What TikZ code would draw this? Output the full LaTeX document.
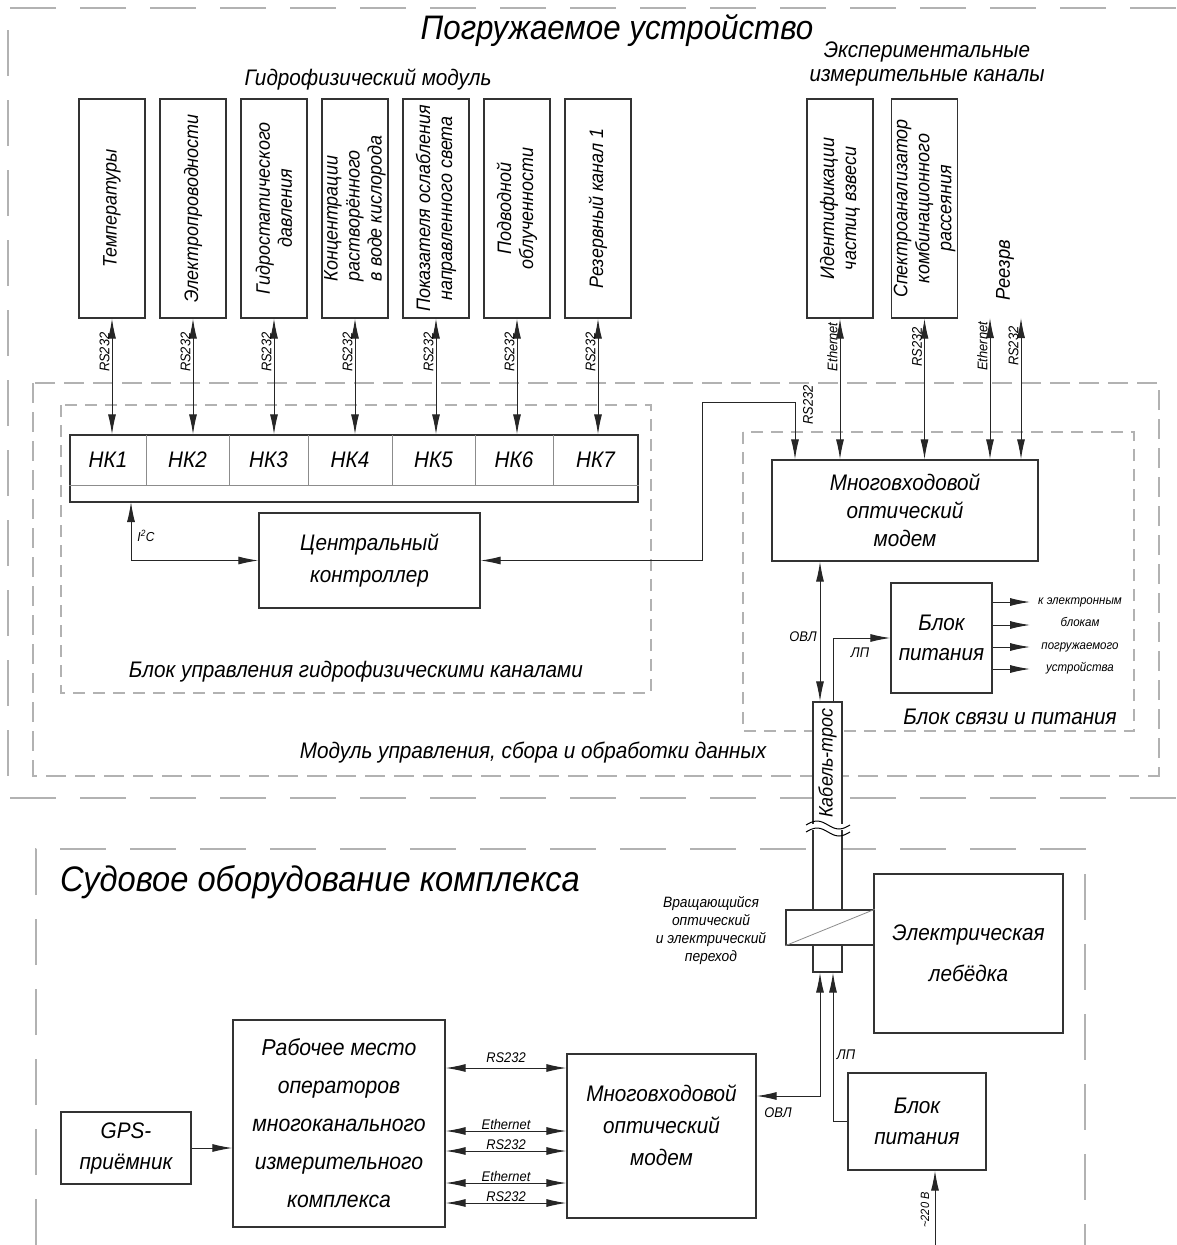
\documentclass[tikz,border=0pt]{standalone}
\usepackage{fontspec}
\setmainfont{Liberation Sans}[FakeStretch=0.92]
\usetikzlibrary{arrows.meta}

\begin{document}
\begin{tikzpicture}[x=1pt,y=-1pt,>={Latex[length=20pt,width=8pt]},
  sensor/.style={draw=black!80,line width=1.3pt,minimum width=66pt,minimum height=219pt,inner sep=0pt},
  vtext/.style={rotate=90,align=center,font=\fontsize{19.5}{22}\itshape},
  box/.style={draw=black!80,line width=1.3pt,fill=white,inner sep=0pt,align=center,font=\fontsize{22.5}{30}\itshape},
  tag/.style={font=\fontsize{14}{15}\itshape,inner sep=2pt},
  vtag/.style={tag,rotate=90},
  link/.style={<->,line width=1pt,draw=black!85},
  feed/.style={->,line width=1pt,draw=black!85},
  cell/.style={draw=black!45,line width=0.8pt},
  bigframe/.style={draw=black!30,line width=1.3pt,dash pattern=on 46pt off 24pt},
  midframe/.style={draw=black!30,line width=1.3pt,dash pattern=on 20pt off 9pt},
  smallframe/.style={draw=black!30,line width=1.1pt,dash pattern=on 12pt off 8pt}]
  \useasboundingbox (0,0) rectangle (1176,1245);

  % frames
  \draw[bigframe] (1176,8) -- (8,8) -- (8,798) -- (1176,798);
  \draw[midframe] (33,383) rectangle (1159,776);
  \draw[smallframe] (61,405) rectangle (651,693);
  \draw[smallframe] (743,432) rectangle (1134,731);
  \draw[bigframe] (36,1245) -- (36,849) -- (1085,849) -- (1085,1245);

  % titles
  \node[font=\fontsize{34}{36}\itshape] (ttl) at (617,30) {Погружаемое устройство};
  \node[font=\fontsize{22.5}{24}\itshape] (hydro) at (368,80) {Гидрофизический модуль};
  \node[font=\fontsize{22.5}{24}\itshape,align=center] (expt) at (927,64) {Экспериментальные\\измерительные каналы};
  \node[font=\fontsize{22.5}{24}\itshape] (bctl) at (356,672) {Блок управления гидрофизическими каналами};
  \node[font=\fontsize{22.5}{24}\itshape] (modl) at (533,753) {Модуль управления, сбора и обработки данных};
  \node[font=\fontsize{22.5}{24}\itshape] (bsv) at (1010,717) {Блок связи и питания};
  \node[font=\fontsize{35.5}{38}\itshape] (ship) at (320,882) {Судовое оборудование комплекса};

  % hydrophysical sensors
  \node[sensor] (h1) at (112,208.5) {};
  \node[sensor] (h2) at (193,208.5) {};
  \node[sensor] (h3) at (274,208.5) {};
  \node[sensor] (h4) at (355,208.5) {};
  \node[sensor] (h5) at (436,208.5) {};
  \node[sensor] (h6) at (517,208.5) {};
  \node[sensor] (h7) at (598,208.5) {};
  \node[vtext] (t1) at (h1) {Температуры};
  \node[vtext] (t2) at (h2) {Электропроводности};
  \node[vtext] (t3) at (h3) {Гидростатического\\давления};
  \node[vtext,align=left] (t4) at (h4) {Концентрации\\растворённого\\в воде кислорода};
  \node[vtext] (t5) at (h5) {Показателя ослабления\\направленного света};
  \node[vtext] (t6) at (h6) {Подводной\\облученности};
  \node[vtext] (t7) at (h7) {Резервный канал 1};

  % experimental channels
  \node[sensor] (e1) at (840,208.5) {};
  \node[sensor] (e2) at (924.5,208.5) {};
  \node[vtext] (te1) at (e1) {Идентификации\\частиц взвеси};
  \node[vtext] (te2) at (e2) {Спектроанализатор\\комбинационного\\рассеяния};
  \node[font=\fontsize{20}{22}\itshape,rotate=90] (rez) at (1005,270) {Реезрв};
  \coordinate (r1) at (990,318);
  \coordinate (r2) at (1021,318);

  % channel strip
  \node[box,minimum width=568pt,minimum height=67pt] (strip) at (354,468.5) {};
  \draw[cell] ([yshift=-16.5pt]strip.west) -- ([yshift=-16.5pt]strip.east);
  \draw[cell] (146,435) -- (146,485);
  \draw[cell] (229,435) -- (229,485);
  \draw[cell] (308,435) -- (308,485);
  \draw[cell] (392,435) -- (392,485);
  \draw[cell] (475,435) -- (475,485);
  \draw[cell] (553,435) -- (553,485);
  \node[font=\fontsize{22.5}{24}\itshape] (nk1) at (108,460) {НК1};
  \node[font=\fontsize{22.5}{24}\itshape] (nk2) at (187.5,460) {НК2};
  \node[font=\fontsize{22.5}{24}\itshape] (nk3) at (268.5,460) {НК3};
  \node[font=\fontsize{22.5}{24}\itshape] (nk4) at (350,460) {НК4};
  \node[font=\fontsize{22.5}{24}\itshape] (nk5) at (433.5,460) {НК5};
  \node[font=\fontsize{22.5}{24}\itshape] (nk6) at (514,460) {НК6};
  \node[font=\fontsize{22.5}{24}\itshape] (nk7) at (595.5,460) {НК7};

  \draw[link] (h1.south) -- (h1.south |- strip.north) node[vtag,pos=0.29,above] {RS232};
  \draw[link] (h2.south) -- (h2.south |- strip.north) node[vtag,pos=0.29,above] {RS232};
  \draw[link] (h3.south) -- (h3.south |- strip.north) node[vtag,pos=0.29,above] {RS232};
  \draw[link] (h4.south) -- (h4.south |- strip.north) node[vtag,pos=0.29,above] {RS232};
  \draw[link] (h5.south) -- (h5.south |- strip.north) node[vtag,pos=0.29,above] {RS232};
  \draw[link] (h6.south) -- (h6.south |- strip.north) node[vtag,pos=0.29,above] {RS232};
  \draw[link] (h7.south) -- (h7.south |- strip.north) node[vtag,pos=0.29,above] {RS232};

  % controller
  \node[box,minimum width=221pt,minimum height=95pt,font=\fontsize{22.5}{32}\itshape] (ctrl) at (369.5,560.5) {Центральный\\контроллер};
  \coordinate (i2c) at (131,502);
  \draw[link] (i2c) |- (ctrl.west);
  \node[tag,font=\fontsize{13}{14}\itshape] (i2cl) at (146,536) {I\textsuperscript{2}C};

  % communication and power
  \node[box,minimum width=266pt,minimum height=101pt,font=\fontsize{22.5}{28}\itshape] (modem) at (905,510.5) {Многовходовой\\оптический\\модем};
  \coordinate (bend) at (702,402);
  \coordinate (rsin) at (795,402);
  \draw[link] (ctrl.east) -| (bend) -- (rsin) -- (rsin |- modem.north);
  \node[vtag] (rsl) at (808,405) {RS232};
  \draw[link] (e1.south) -- (e1.south |- modem.north) node[vtag,pos=0.2,above] {Ethernet};
  \draw[link] (e2.south) -- (e2.south |- modem.north) node[vtag,pos=0.2,above] {RS232};
  \draw[link] (r1) -- (r1 |- modem.north) node[vtag,pos=0.2,above] {Ethernet};
  \draw[link] (r2) -- (r2 |- modem.north) node[vtag,pos=0.2,above] {RS232};

  \node[box,minimum width=101pt,minimum height=110pt] (psu1) at (941.5,638) {Блок\\питания};
  \coordinate (o1) at (1030,602);
  \coordinate (o2) at (1030,625);
  \coordinate (o3) at (1030,647);
  \coordinate (o4) at (1030,669);
  \draw[feed] (o1 -| psu1.east) -- (o1);
  \draw[feed] (o2 -| psu1.east) -- (o2);
  \draw[feed] (o3 -| psu1.east) -- (o3);
  \draw[feed] (o4 -| psu1.east) -- (o4);
  \node[font=\fontsize{12.5}{22.5}\itshape,align=center] (outl) at (1080,636) {к электронным\\блокам\\погружаемого\\устройства};

  % cable
  \node[box,minimum width=29pt,minimum height=270pt] (cable) at (827.5,837) {};
  \node[rotate=90,font=\fontsize{19.5}{20}\itshape] (cabt) at (827.5,763) {Кабель-трос};
  \fill[white] (811,824) rectangle (844,830);
  \draw[line width=1pt] (806,825) sin (817,821) cos (828,825) sin (839,829) cos (850,825);
  \draw[line width=1pt] (806,832) sin (817,828) cos (828,832) sin (839,836) cos (850,832);

  \draw[link] ([xshift=-7.5pt]cable.north) -- ([xshift=-7.5pt]cable.north |- modem.south);
  \draw[feed] ([xshift=5.5pt]cable.north) |- (psu1.west);
  \node[tag] (ovl1) at (803,637) {ОВЛ};
  \node[tag] (lp1) at (860,653) {ЛП};

  % ship equipment
  \node[box,minimum width=189pt,minimum height=159pt,font=\fontsize{22.5}{41}\itshape] (winch) at (968.5,953.5) {Электрическая\\лебёдка};
  \node[box,minimum width=88pt,minimum height=35pt] (joint) at (830,927.5) {};
  \draw[black!45,line width=0.8pt] (joint.south west) -- (joint.north east);
  \node[font=\fontsize{15}{18}\itshape,align=center] (jointl) at (711,930) {Вращающийся\\оптический\\и электрический\\переход};

  \node[box,minimum width=189pt,minimum height=164pt] (modem2) at (661.5,1136) {};
  \node[font=\fontsize{22.5}{32}\itshape,align=center] (modem2t) at (661.5,1125) {Многовходовой\\оптический\\модем};
  \node[box,minimum width=138pt,minimum height=97pt,font=\fontsize{22.5}{31}\itshape] (psu2) at (917,1121.5) {Блок\\питания};
  \node[box,minimum width=212pt,minimum height=207pt,font=\fontsize{23}{38}\itshape] (ws) at (339,1123.5) {Рабочее место\\операторов\\многоканального\\измерительного\\комплекса};
  \node[box,minimum width=130pt,minimum height=72pt,font=\fontsize{22.5}{31}\itshape] (gps) at (126,1148) {GPS-\\приёмник};

  \draw[link] ([yshift=40pt]modem2.east) -| ([xshift=-7.5pt]cable.south);
  \draw[feed] (psu2.west) -| ([xshift=5.5pt]cable.south);
  \node[tag] (ovl2) at (778,1113) {ОВЛ};
  \node[tag] (lp2) at (846,1055) {ЛП};

  \coordinate (mains) at (935,1245);
  \draw[feed] (mains) -- (mains |- psu2.south);
  \node[rotate=90,font=\fontsize{12}{13}\itshape] (mainsl) at (925,1210) {\textasciitilde220 В};

  \draw[feed] (gps.east) -- (gps.east -| ws.west);

  \coordinate (b1) at (506,1068);
  \coordinate (b2) at (506,1131);
  \coordinate (b3) at (506,1151);
  \coordinate (b4) at (506,1183);
  \coordinate (b5) at (506,1203);
  \draw[link] (b1 -| ws.east) -- (b1 -| modem2.west) node[tag,midway,above=3pt] {RS232};
  \draw[link] (b2 -| ws.east) -- (b2 -| modem2.west) node[tag,midway,above=-1pt] {Ethernet};
  \draw[link] (b3 -| ws.east) -- (b3 -| modem2.west) node[tag,midway,above=-1pt] {RS232};
  \draw[link] (b4 -| ws.east) -- (b4 -| modem2.west) node[tag,midway,above=-1pt] {Ethernet};
  \draw[link] (b5 -| ws.east) -- (b5 -| modem2.west) node[tag,midway,above=-1pt] {RS232};
\end{tikzpicture}
\end{document}
